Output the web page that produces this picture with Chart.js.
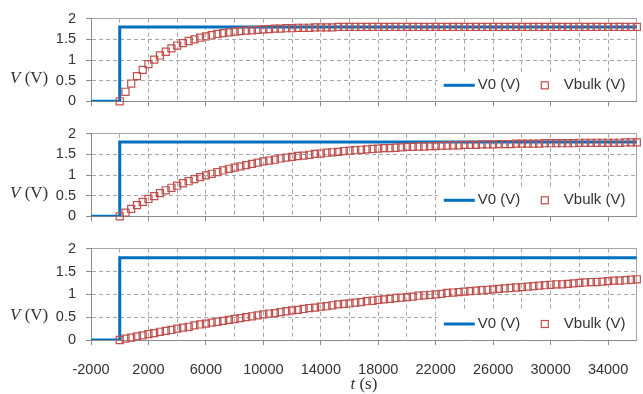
<!DOCTYPE html>
<html>
<head>
<meta charset="utf-8">
<script src="https://cdn.jsdelivr.net/npm/chart.js@4/dist/chart.umd.min.js"></script>
<style>
  body { margin: 0; background: #fff; }
  #wrap { position: relative; width: 643px; height: 394px; }
  canvas { position: absolute; left: 0; }
</style>
</head>
<body>
<div id="wrap">
  <canvas id="plot1" width="643" height="120" style="top:0px"></canvas>
  <canvas id="plot2" width="643" height="120" style="top:115px"></canvas>
  <canvas id="plot3" width="643" height="164" style="top:230px"></canvas>
</div>
<script>
// tempo das amostras (s)
const tempos = [0, 400, 800, 1200, 1600, 2000, 2400, 2800, 3200, 3600,
  4000, 4400, 4800, 5200, 5600, 6000, 6400, 6800, 7200, 7600,
  8000, 8400, 8800, 9200, 9600, 10000, 10400, 10800, 11200, 11600,
  12000, 12400, 12800, 13200, 13600, 14000, 14400, 14800, 15200, 15600,
  16000, 16400, 16800, 17200, 17600, 18000, 18400, 18800, 19200, 19600,
  20000, 20400, 20800, 21200, 21600, 22000, 22400, 22800, 23200, 23600,
  24000, 24400, 24800, 25200, 25600, 26000, 26400, 26800, 27200, 27600,
  28000, 28400, 28800, 29200, 29600, 30000, 30400, 30800, 31200, 31600,
  32000, 32400, 32800, 33200, 33600, 34000, 34400, 34800, 35200, 35600, 36000];

// V0 (degrau)
const v0Tempos = [-2000, 0, 0, 36000];
const v0Valores = [0, 0, 1.8, 1.8];

// Vbulk de cada painel
const vbulk1 = [0.00, 0.23, 0.43, 0.61, 0.76, 0.90, 1.01, 1.11, 1.20, 1.28,
  1.35, 1.41, 1.46, 1.50, 1.54, 1.57, 1.60, 1.63, 1.65, 1.67,
  1.69, 1.70, 1.71, 1.72, 1.73, 1.74, 1.75, 1.76, 1.76, 1.77,
  1.77, 1.78, 1.78, 1.78, 1.79, 1.79, 1.79, 1.79, 1.80, 1.80,
  1.80, 1.80, 1.80, 1.80, 1.80, 1.80, 1.80, 1.80, 1.80, 1.80,
  1.80, 1.80, 1.80, 1.80, 1.80, 1.80, 1.80, 1.80, 1.80, 1.80,
  1.80, 1.80, 1.80, 1.80, 1.80, 1.80, 1.80, 1.80, 1.80, 1.80,
  1.80, 1.80, 1.80, 1.80, 1.80, 1.80, 1.80, 1.80, 1.80, 1.80,
  1.80, 1.80, 1.80, 1.80, 1.80, 1.80, 1.80, 1.80, 1.80, 1.80, 1.80];

const vbulk2 = [0.00, 0.09, 0.18, 0.27, 0.35, 0.42, 0.49, 0.56, 0.63, 0.69,
  0.74, 0.80, 0.85, 0.90, 0.95, 0.99, 1.03, 1.07, 1.11, 1.15,
  1.18, 1.21, 1.24, 1.27, 1.30, 1.33, 1.35, 1.37, 1.40, 1.42,
  1.44, 1.46, 1.47, 1.49, 1.51, 1.52, 1.54, 1.55, 1.56, 1.58,
  1.59, 1.60, 1.61, 1.62, 1.63, 1.64, 1.65, 1.65, 1.66, 1.67,
  1.68, 1.68, 1.69, 1.69, 1.70, 1.70, 1.71, 1.71, 1.72, 1.72,
  1.73, 1.73, 1.73, 1.74, 1.74, 1.74, 1.75, 1.75, 1.75, 1.76,
  1.76, 1.76, 1.76, 1.76, 1.77, 1.77, 1.77, 1.77, 1.77, 1.77,
  1.78, 1.78, 1.78, 1.78, 1.78, 1.78, 1.78, 1.78, 1.79, 1.79, 1.79];

const vbulk3 = [0.00, 0.03, 0.05, 0.08, 0.10, 0.13, 0.15, 0.18, 0.20, 0.22,
  0.25, 0.27, 0.29, 0.32, 0.34, 0.36, 0.38, 0.40, 0.42, 0.44,
  0.46, 0.48, 0.50, 0.52, 0.54, 0.56, 0.58, 0.59, 0.61, 0.63,
  0.65, 0.66, 0.68, 0.70, 0.71, 0.73, 0.74, 0.76, 0.78, 0.79,
  0.80, 0.82, 0.83, 0.85, 0.86, 0.88, 0.89, 0.90, 0.92, 0.93,
  0.94, 0.95, 0.97, 0.98, 0.99, 1.00, 1.01, 1.03, 1.04, 1.05,
  1.06, 1.07, 1.08, 1.09, 1.10, 1.11, 1.12, 1.13, 1.14, 1.15,
  1.16, 1.17, 1.18, 1.19, 1.20, 1.21, 1.22, 1.22, 1.23, 1.24,
  1.25, 1.26, 1.27, 1.27, 1.28, 1.29, 1.30, 1.30, 1.31, 1.32, 1.33];

// rotulos do eixo x (so no painel de baixo)
const rotulosX = [-2000, 2000, 6000, 10000, 14000, 18000, 22000, 26000, 30000, 34000];

const corV0 = "#0070C0";
const corVbulk = "#C0504D";
const corGrade = "#a6a6a6";
const corEixo = "#8c8c8c";
const corTexto = "#333333";
const fonteSans = "'Liberation Sans', Arial, sans-serif";
const fonteSerif = "'Liberation Serif', 'Times New Roman', serif";

// escreve pedacos de texto com fontes diferentes em sequencia
function textoMisto(ctx, partes, x, y, centro) {
  let total = 0;
  partes.forEach((p) => {
    ctx.font = p[1];
    total += ctx.measureText(p[0]).width;
  });
  let pos = centro ? x - total / 2 : x;
  partes.forEach((p) => {
    ctx.font = p[1];
    ctx.fillText(p[0], pos, y);
    pos += ctx.measureText(p[0]).width;
  });
}

const legendaPlugin = {
  id: "legenda",
  beforeDatasetsDraw(chart) {
    const { ctx, chartArea: a } = chart;
    const y = a.bottom - 16;
    ctx.save();
    ctx.fillStyle = "#fff";
    ctx.fillRect(a.right - 199, a.bottom - 29, 198, 28);
    ctx.strokeStyle = corV0;
    ctx.lineWidth = 3;
    ctx.beginPath();
    ctx.moveTo(a.right - 193, y);
    ctx.lineTo(a.right - 162, y);
    ctx.stroke();
    ctx.strokeStyle = corVbulk;
    ctx.lineWidth = 1.2;
    ctx.strokeRect(a.right - 95.5, y - 3.5, 7, 7);
    ctx.fillStyle = corTexto;
    ctx.textBaseline = "middle";
    ctx.font = "15px " + fonteSans;
    ctx.fillText("V0 (V)", a.right - 159, y);
    ctx.fillText("Vbulk (V)", a.right - 73, y);
    ctx.restore();
  },
  afterDraw(chart, args, opts) {
    const { ctx, chartArea: a } = chart;
    ctx.save();
    ctx.fillStyle = corTexto;
    ctx.textBaseline = "middle";
    const yV = chart.scales.y.getPixelForValue(0.5) - 2;
    textoMisto(ctx, [["V", "italic 17px " + fonteSerif], [" (V)", "17px " + fonteSerif]], 10, yV, false);
    if (opts.tituloX) {
      textoMisto(ctx, [["t", "italic 17px " + fonteSerif], [" (s)", "17px " + fonteSerif]], (a.left + a.right) / 2, chart.height - 9, true);
    }
    ctx.restore();
  },
};

function func_painel(id, vbulk, mostraX, alturaX) {
  const pontosV0 = v0Tempos.map((t, i) => ({ x: t, y: v0Valores[i] }));
  const pontosVbulk = tempos.map((t, i) => ({ x: t, y: vbulk[i] }));
  return new Chart(document.getElementById(id), {
    type: "scatter",
    data: {
      datasets: [
        {
          label: "Vbulk (V)",
          data: pontosVbulk,
          pointStyle: "rect",
          pointRadius: 5,
          borderColor: corVbulk,
          borderWidth: 1.2,
          backgroundColor: "rgba(0,0,0,0)",
          clip: false,
          order: 0,
        },
        {
          label: "V0 (V)",
          data: pontosV0,
          showLine: true,
          borderColor: corV0,
          borderWidth: 3,
          pointRadius: 0,
          tension: 0,
          clip: 0,
          order: 1,
        },
      ],
    },
    options: {
      responsive: false,
      animation: false,
      layout: { padding: { top: 12, right: 1, left: 0, bottom: 0 } },
      plugins: {
        legend: { display: false },
        tooltip: { enabled: false },
        legenda: { tituloX: mostraX },
      },
      scales: {
        x: {
          type: "linear",
          min: -2000,
          max: 36000,
          afterFit: (s) => {
            s.height = alturaX;
            s.paddingLeft = 0;
            s.paddingRight = 0;
          },
          ticks: {
            stepSize: 2000,
            autoSkip: false,
            maxRotation: 0,
            display: mostraX,
            padding: 16,
            color: corTexto,
            font: { family: fonteSans, size: 14.5 },
            callback: (v) => (rotulosX.includes(v) ? String(v) : ""),
          },
          grid: {
            color: corGrade,
            tickLength: 5,
            tickColor: (c) => (c.tick && rotulosX.includes(c.tick.value) ? corEixo : "rgba(0,0,0,0)"),
          },
          border: {
            color: corEixo,
            dash: (c) => (c.tick && c.tick.value === 36000 ? [] : [4, 3]),
          },
        },
        y: {
          min: 0,
          max: 2,
          afterFit: (s) => { s.width = 91; },
          ticks: {
            stepSize: 0.5,
            padding: 10,
            color: corTexto,
            font: { family: fonteSans, size: 14.5 },
            callback: (v) => String(v),
          },
          grid: { color: corGrade, tickLength: 5, tickColor: corEixo },
          border: {
            color: corEixo,
            dash: (c) => (c.tick && c.tick.value === 2 ? [] : [4, 3]),
          },
        },
      },
    },
    plugins: [legendaPlugin],
  });
}

let grafico1 = func_painel("plot1", vbulk1, false, 10);
let grafico2 = func_painel("plot2", vbulk2, false, 10);
let grafico3 = func_painel("plot3", vbulk3, true, 54);
</script>
</body>
</html>
